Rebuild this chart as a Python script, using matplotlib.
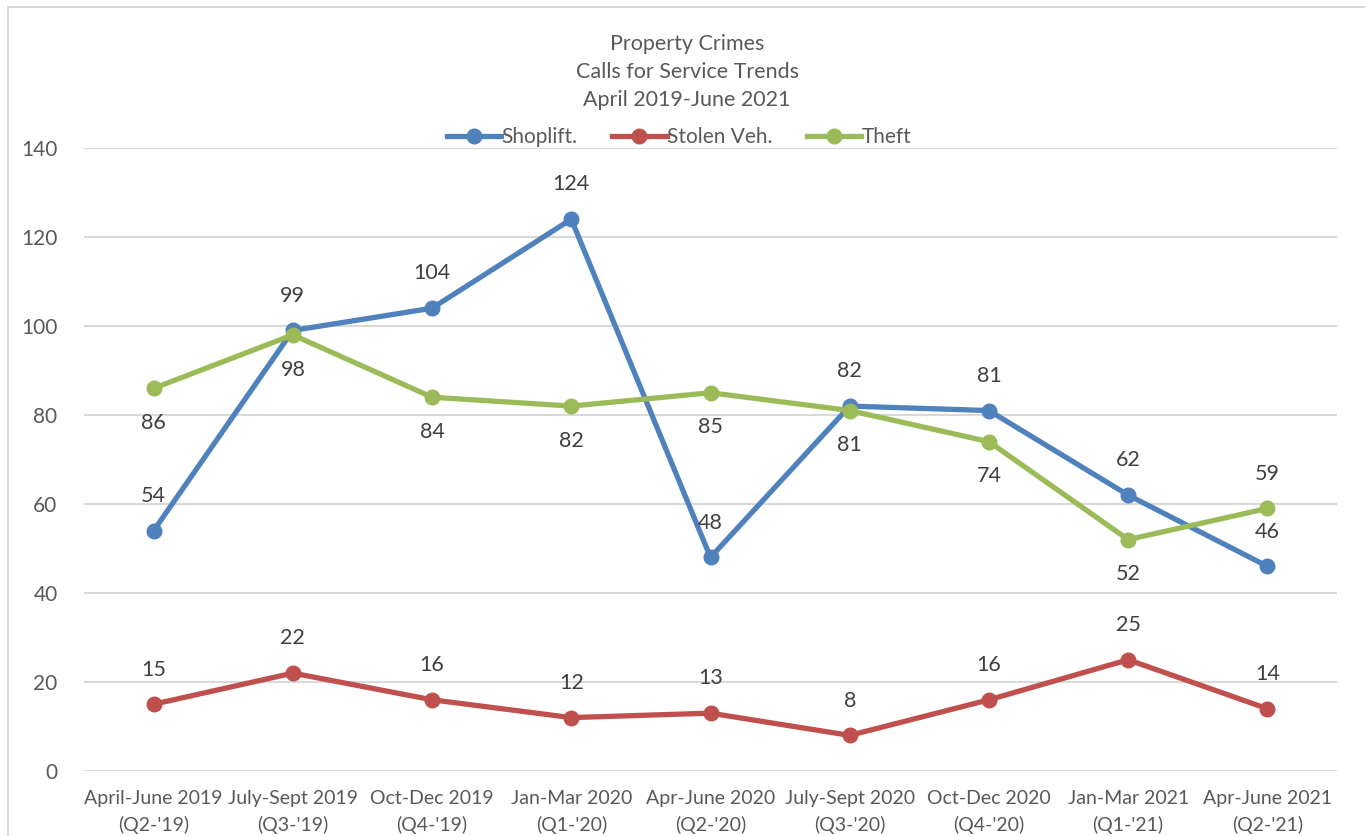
import matplotlib
matplotlib.use("Agg")
import matplotlib.pyplot as plt
from matplotlib.patches import Rectangle
from matplotlib.lines import Line2D

categories = ["April-June 2019\n(Q2-'19)", "July-Sept 2019\n(Q3-'19)", "Oct-Dec 2019\n(Q4-'19)",
              "Jan-Mar 2020\n(Q1-'20)", "Apr-June 2020\n(Q2-'20)", "July-Sept 2020\n(Q3-'20)",
              "Oct-Dec 2020\n(Q4-'20)", "Jan-Mar 2021\n(Q1-'21)", "Apr-June 2021\n(Q2-'21)"]
shoplift = [54, 99, 104, 124, 48, 82, 81, 62, 46]
stolen_veh = [15, 22, 16, 12, 13, 8, 16, 25, 14]
theft = [86, 98, 84, 82, 85, 81, 74, 52, 59]
series_names = ["Shoplift.", "Stolen Veh.", "Theft"]
yticks = [0, 20, 40, 60, 80, 100, 120, 140]
# label placement per point: +1 above, -1 below
shoplift_pos = [1, 1, 1, 1, 1, 1, 1, 1, 1]
stolen_pos = [1, 1, 1, 1, 1, 1, 1, 1, 1]
theft_pos = [-1, -1, -1, -1, -1, -1, -1, -1, 1]

plt.rcParams['font.family'] = ['Lato', 'DejaVu Sans']
TXT = '#595959'
LBL = '#404040'
colors = ['#4F81BD', '#C0504D', '#9BBB59']
FS = 15

fig = plt.figure(figsize=(13.65, 8.36), dpi=100)
fig.patches.append(Rectangle((8/1365, -0.1), 1.2, 1 - 7/836 + 0.1, transform=fig.transFigure,
                             fill=False, edgecolor='#D9D9D9', linewidth=1.5))
ax = fig.add_axes([84/1365, 1 - 771/836, (1337 - 84)/1365, (771 - 148)/836])

x = list(range(len(categories)))
data = [shoplift, stolen_veh, theft]
positions = [shoplift_pos, stolen_pos, theft_pos]
for vals, c, name, pos in zip(data, colors, series_names, positions):
    ax.plot(x, vals, color=c, lw=3.8, marker='o', markersize=10.5, label=name,
            solid_capstyle='round', zorder=3)
    for xi, v, p in zip(x, vals, pos):
        ax.annotate(str(v), (xi, v), xytext=(0, 25 * p), textcoords='offset points',
                    ha='center', va='center', fontsize=15.5, color=LBL, zorder=4)

ax.set_xlim(-0.5, len(categories) - 0.5)
ax.set_ylim(0, 140)
ax.set_yticks(yticks)
ax.set_xticks(x)
ax.set_xticklabels(categories, fontsize=14, color=TXT, linespacing=1.55)
ax.tick_params(axis='y', labelsize=FS, labelcolor=TXT, length=0, pad=19)
ax.tick_params(axis='x', length=0, pad=14)
ax.grid(axis='y', color='#D9D9D9', lw=1.5)
ax.set_axisbelow(True)
for s in ax.spines.values():
    s.set_visible(False)

fig.text(687/1365, 1 - 72/836, "Property Crimes\nCalls for Service Trends\nApril 2019-June 2021",
         ha='center', va='center', fontsize=15.5, color=TXT, linespacing=1.5)

handles = [Line2D([], [], color=c, lw=3.8, marker='o', markersize=10.5) for c in colors]
fig.legend(handles, series_names, loc='center', bbox_to_anchor=(679/1365, 1 - 137/836),
           ncol=3, frameon=False, fontsize=FS, labelcolor=TXT, handlelength=2.6,
           handletextpad=0.0, columnspacing=1.7)

fig.savefig('out.png', dpi=100, facecolor='white')
